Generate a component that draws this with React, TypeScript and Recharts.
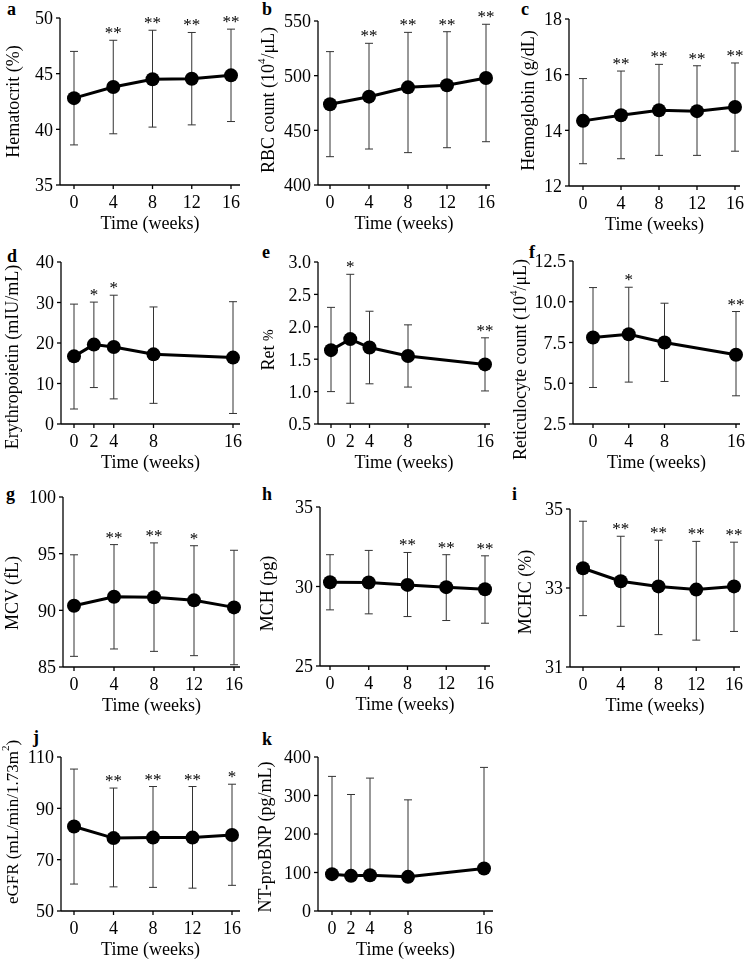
import React from 'react';
import { LineChart, Line, XAxis, YAxis, ErrorBar, LabelList } from 'recharts';

const FONT = 'Liberation Serif';

// ---------- data ----------
const weeksA = [0, 4, 8, 12, 16];
const weeksD = [0, 2, 4, 8, 16];
const weeksF = [0, 4, 8, 16];

const hctMean = [42.8, 43.8, 44.5, 44.55, 44.85];
const hctUpper = [47.0, 48.0, 48.9, 48.7, 49.0];
const hctLower = [38.6, 39.6, 40.2, 40.4, 40.7];
const hctSig = ['', '**', '**', '**', '**'];
const hctTicks = [35, 40, 45, 50];

const rbcMean = [473.8, 480.8, 489.3, 491.2, 497.9];
const rbcUpper = [522, 529.6, 539.6, 540.2, 547];
const rbcLower = [425.9, 432.9, 429.6, 434.1, 439.6];
const rbcSig = ['', '**', '**', '**', '**'];
const rbcTicks = [400, 450, 500, 550];

const hbMean = [14.34, 14.54, 14.72, 14.69, 14.84];
const hbUpper = [15.86, 16.13, 16.37, 16.32, 16.42];
const hbLower = [12.8, 12.98, 13.1, 13.1, 13.25];
const hbSig = ['', '**', '**', '**', '**'];
const hbTicks = [12, 14, 16, 18];

const epoMean = [16.7, 19.6, 19.0, 17.2, 16.4];
const epoUpper = [29.6, 30.1, 31.8, 28.9, 30.2];
const epoLower = [3.7, 9.0, 6.2, 5.1, 2.6];
const epoSig = ['', '*', '*', '', ''];
const epoTicks = [0, 10, 20, 30, 40];

const retMean = [1.64, 1.81, 1.68, 1.55, 1.42];
const retUpper = [2.3, 2.81, 2.24, 2.03, 1.83];
const retLower = [1.0, 0.82, 1.12, 1.07, 1.01];
const retSig = ['', '*', '', '', '**'];
const retTicks = [0.5, 1.0, 1.5, 2.0, 2.5, 3.0];

const recMean = [7.81, 8.01, 7.5, 6.75];
const recUpper = [10.87, 10.89, 9.91, 9.4];
const recLower = [4.74, 5.07, 5.11, 4.23];
const recSig = ['', '*', '', '**'];
const recTicks = [2.5, 5.0, 7.5, 10.0, 12.5];

const mcvMean = [90.41, 91.2, 91.15, 90.88, 90.26];
const mcvUpper = [94.9, 95.8, 95.95, 95.7, 95.3];
const mcvLower = [85.94, 86.59, 86.38, 86.0, 85.2];
const mcvSig = ['', '**', '**', '*', ''];
const mcvTicks = [85, 90, 95, 100];

const mchMean = [30.27, 30.25, 30.1, 29.96, 29.83];
const mchUpper = [32.0, 32.27, 32.14, 32.0, 31.93];
const mchLower = [28.53, 28.28, 28.11, 27.86, 27.69];
const mchSig = ['', '', '**', '**', '**'];
const mchTicks = [25, 30, 35];

const mchcMean = [33.5, 33.17, 33.04, 32.96, 33.04];
const mchcUpper = [34.69, 34.31, 34.21, 34.18, 34.16];
const mchcLower = [32.3, 32.03, 31.82, 31.68, 31.9];
const mchcSig = ['', '**', '**', '**', '**'];
const mchcTicks = [31, 33, 35];

const gfrMean = [82.9, 78.4, 78.6, 78.6, 79.6];
const gfrUpper = [105.3, 97.9, 98.5, 98.5, 99.4];
const gfrLower = [60.5, 59.4, 59.2, 58.9, 60.0];
const gfrSig = ['', '**', '**', '**', '*'];
const gfrTicks = [50, 70, 90, 110];

const bnpMean = [95.7, 91.3, 93, 88.7, 110.4];
const bnpUpper = [349.6, 302.6, 345.2, 288.7, 373];
const bnpLower = [95.7, 91.3, 93, 88.7, 110.4];
const bnpSig = ['', '', '', '', ''];
const bnpTicks = [0, 100, 200, 300, 400];

// ---------- layout ----------
type Seg = { t: string; sup?: boolean; small?: boolean };
type Cfg = {
  letter: string; lx: number; ly: number;
  axisX: number; right: number; top: number; bottom: number;
  padL: number; padR: number; lOff: number; lDy: number; lSize: number;
  label: Seg[]; dec: number;
  weeks: number[]; mean: number[]; upper: number[]; lower: number[]; sig: string[]; ticks: number[];
};

const panels: Cfg[] = [
  { letter: 'a', lx: 7, ly: 15, axisX: 60, right: 240, top: 18, bottom: 185, padL: 14, padR: 9, lOff: 47, lDy: 0, lSize: 18,
    label: [{ t: 'Hematocrit (%)' }], dec: 0, weeks: weeksA, mean: hctMean, upper: hctUpper, lower: hctLower, sig: hctSig, ticks: hctTicks },
  { letter: 'b', lx: 262, ly: 15, axisX: 318, right: 490, top: 21, bottom: 185, padL: 12, padR: 4, lOff: 50, lDy: -3, lSize: 18,
    label: [{ t: 'RBC count (10' }, { t: '4', sup: true }, { t: '/μL)' }], dec: 0, weeks: weeksA, mean: rbcMean, upper: rbcUpper, lower: rbcLower, sig: rbcSig, ticks: rbcTicks },
  { letter: 'c', lx: 521, ly: 15, axisX: 569, right: 740, top: 19, bottom: 186, padL: 14, padR: 5, lOff: 41, lDy: -2, lSize: 18,
    label: [{ t: 'Hemoglobin (g/dL)' }], dec: 0, weeks: weeksA, mean: hbMean, upper: hbUpper, lower: hbLower, sig: hbSig, ticks: hbTicks },
  { letter: 'd', lx: 7, ly: 262, axisX: 61, right: 240, top: 262, bottom: 424, padL: 13, padR: 7, lOff: 49, lDy: 14, lSize: 18,
    label: [{ t: 'Erythropoietin (mIU/mL)' }], dec: 0, weeks: weeksD, mean: epoMean, upper: epoUpper, lower: epoLower, sig: epoSig, ticks: epoTicks },
  { letter: 'e', lx: 262, ly: 258, axisX: 318, right: 490, top: 262, bottom: 424, padL: 13, padR: 5, lOff: 50, lDy: 7, lSize: 18,
    label: [{ t: 'Ret ' }, { t: '%', small: true }], dec: 1, weeks: weeksD, mean: retMean, upper: retUpper, lower: retLower, sig: retSig, ticks: retTicks },
  { letter: 'f', lx: 529, ly: 258, axisX: 573, right: 740, top: 261, bottom: 424, padL: 20, padR: 4, lOff: 53, lDy: 17, lSize: 18,
    label: [{ t: 'Reticulocyte count (10' }, { t: '4', sup: true }, { t: '/μL)' }], dec: 1, weeks: weeksF, mean: recMean, upper: recUpper, lower: recLower, sig: recSig, ticks: recTicks },
  { letter: 'g', lx: 6, ly: 500, axisX: 63, right: 240, top: 497, bottom: 667, padL: 11, padR: 6, lOff: 51, lDy: 11, lSize: 18,
    label: [{ t: 'MCV (fL)' }], dec: 0, weeks: weeksA, mean: mcvMean, upper: mcvUpper, lower: mcvLower, sig: mcvSig, ticks: mcvTicks },
  { letter: 'h', lx: 262, ly: 500, axisX: 320, right: 490, top: 507, bottom: 666, padL: 10, padR: 5, lOff: 53, lDy: 7, lSize: 18,
    label: [{ t: 'MCH (pg)' }], dec: 0, weeks: weeksA, mean: mchMean, upper: mchUpper, lower: mchLower, sig: mchSig, ticks: mchTicks },
  { letter: 'i', lx: 512, ly: 500, axisX: 570, right: 740, top: 509, bottom: 667, padL: 13, padR: 6, lOff: 45, lDy: 4, lSize: 18,
    label: [{ t: 'MCHC (%)' }], dec: 0, weeks: weeksA, mean: mchcMean, upper: mchcUpper, lower: mchcLower, sig: mchcSig, ticks: mchcTicks },
  { letter: 'j', lx: 33, ly: 743, axisX: 61, right: 240, top: 757, bottom: 911, padL: 13, padR: 8, lOff: 49, lDy: -12, lSize: 17,
    label: [{ t: 'eGFR (mL/min/1.73m' }, { t: '2', sup: true }, { t: ')' }], dec: 0, weeks: weeksA, mean: gfrMean, upper: gfrUpper, lower: gfrLower, sig: gfrSig, ticks: gfrTicks },
  { letter: 'k', lx: 262, ly: 745, axisX: 318, right: 493, top: 757, bottom: 911, padL: 14, padR: 9, lOff: 53, lDy: 3, lSize: 18,
    label: [{ t: 'NT-proBNP (pg/mL)' }], dec: 0, weeks: weeksD, mean: bnpMean, upper: bnpUpper, lower: bnpLower, sig: bnpSig, ticks: bnpTicks },
];

const YW = 70;
const MT = 24;
const XH = 52;
const MR = 4;

const StarLabel = (props: any) => {
  const { x, y, value } = props;
  if (!value) return null;
  return (
    <text
      x={Number(x)}
      y={Number(y) - 2}
      textAnchor="middle"
      style={{ fontFamily: FONT, fontSize: 17, fill: '#000' }}
    >
      {value}
    </text>
  );
};

function Panel({ cfg }: { cfg: Cfg }) {
  const data = cfg.weeks.map((w, i) => ({
    w,
    mean: cfg.mean[i],
    upper: cfg.upper[i],
    err: [cfg.mean[i] - cfg.lower[i], cfg.upper[i] - cfg.mean[i]],
    sig: cfg.sig[i],
  }));
  const width = YW + (cfg.right - cfg.axisX) + MR;
  const height = MT + (cfg.bottom - cfg.top) + XH;
  const yMin = cfg.ticks[0];
  const yMax = cfg.ticks[cfg.ticks.length - 1];
  const fs = cfg.lSize;

  const yLabel = (p: any) => {
    const vb = p.viewBox || {};
    const cx = (vb.x ?? 0) + (vb.width ?? YW) - cfg.lOff;
    const cy = (vb.y ?? MT) + (vb.height ?? 0) / 2 + cfg.lDy;
    let shifted = 0;
    return (
      <text
        x={cx}
        y={cy}
        transform={`rotate(-90, ${cx}, ${cy})`}
        textAnchor="middle"
        dominantBaseline="central"
        style={{ fontFamily: FONT, fontSize: fs, fill: '#000' }}
      >
        {cfg.label.map((s, i) => {
          if (s.sup) {
            shifted = -7;
            return (
              <tspan key={i} dy={-7} style={{ fontSize: 11 }}>
                {s.t}
              </tspan>
            );
          }
          const dy = -shifted;
          shifted = 0;
          return (
            <tspan key={i} dy={dy} style={{ fontSize: s.small ? 14 : fs }}>
              {s.t}
            </tspan>
          );
        })}
      </text>
    );
  };

  const tickStyle = { fill: '#000', fontSize: 18, fontFamily: FONT };

  return (
    <div style={{ position: 'absolute', left: cfg.axisX - YW, top: cfg.top - MT, filter: 'grayscale(1)' }}>
      <LineChart width={width} height={height} data={data} margin={{ top: MT, right: MR, bottom: 0, left: 0 }}>
        <XAxis
          dataKey="w"
          type="number"
          domain={[0, 16]}
          ticks={cfg.weeks}
          interval={0}
          padding={{ left: cfg.padL, right: cfg.padR }}
          height={XH}
          tickSize={4}
          tickMargin={6}
          axisLine={{ stroke: '#000', strokeWidth: 1.3 }}
          tickLine={{ stroke: '#000', strokeWidth: 1.3 }}
          tick={tickStyle}
          label={{ value: 'Time (weeks)', position: 'insideBottom', offset: 8, style: { fill: '#000', fontSize: 18, fontFamily: FONT } }}
        />
        <YAxis
          type="number"
          domain={[yMin, yMax]}
          ticks={cfg.ticks}
          interval={0}
          width={YW}
          tickSize={4}
          tickMargin={3}
          axisLine={{ stroke: '#000', strokeWidth: 1.3 }}
          tickLine={{ stroke: '#000', strokeWidth: 1.3 }}
          tick={tickStyle}
          tickFormatter={(v: number) => v.toFixed(cfg.dec)}
          label={yLabel}
        />
        <Line
          dataKey="mean"
          stroke="#000"
          strokeWidth={3}
          dot={{ r: 7, fill: '#000', stroke: '#000', strokeWidth: 0 }}
          activeDot={false}
          isAnimationActive={false}
        >
          <ErrorBar dataKey="err" direction="y" width={4} stroke="#333" strokeWidth={1} />
        </Line>
        <Line dataKey="upper" stroke="none" dot={false} activeDot={false} isAnimationActive={false}>
          <LabelList dataKey="sig" content={StarLabel} />
        </Line>
      </LineChart>
    </div>
  );
}

export default function App() {
  return (
    <div style={{ position: 'absolute', left: 0, top: 0, width: 755, height: 960, background: '#fff', fontFamily: FONT }}>
      <style>{`.recharts-surface { overflow: visible; } .recharts-text { font-family: 'Liberation Serif'; }`}</style>
      {panels.map((p) => (
        <Panel key={p.letter} cfg={p} />
      ))}
      <svg width={755} height={960} style={{ position: 'absolute', left: 0, top: 0, pointerEvents: 'none' }}>
        {panels.map((p) => (
          <text key={p.letter} x={p.lx} y={p.ly} style={{ fontFamily: FONT, fontSize: 18, fontWeight: 'bold', fill: '#000' }}>
            {p.letter}
          </text>
        ))}
      </svg>
    </div>
  );
}
